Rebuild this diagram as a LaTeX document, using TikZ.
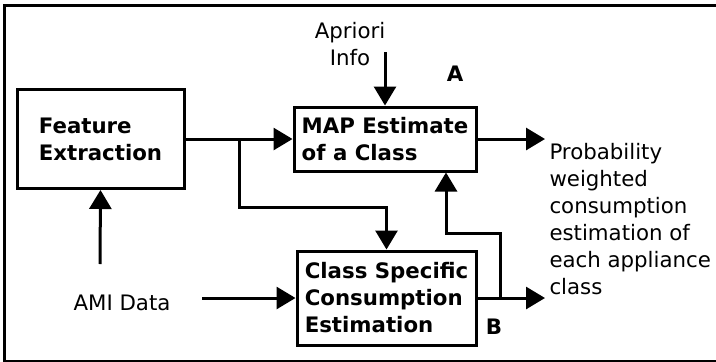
\documentclass[tikz,border=0pt]{standalone}
\usepackage{fontspec}
\setmainfont{DejaVu Sans}
\usetikzlibrary{positioning,calc,arrows.meta}

\begin{document}
\begin{tikzpicture}[
    x=1pt, y=-1pt,
    font=\fontsize{21.3}{27}\selectfont,
    >={Triangle[length=19pt,width=22pt]},
    line width=3pt,
    block/.style={
        draw,
        align=left,
        inner sep=2pt,
        font=\fontsize{21.3}{27}\selectfont\bfseries
    },
    arrow/.style={->, line width=3pt},
    label/.style={font=\fontsize{21.3}{27}\selectfont\bfseries, inner sep=0pt}
]
\useasboundingbox (0,0) rectangle (716,362);

% outer frame, open on the right
\draw[line width=3pt] (730,5.5) -- (4.5,5.5) -- (4.5,361) -- (730,361);

\node[block, minimum width=167pt, minimum height=99pt] (feat) at (100.5,139) {Feature\\Extraction};
\node[block, minimum width=182pt, minimum height=64pt] (map) at (385,139) {MAP Estimate\\of a Class};
\node[block, minimum width=179pt, minimum height=94pt] (cls) at (386.5,298) {Class Specific\\Consumption\\Estimation};

\node[align=center, inner sep=0pt] (prior) at (350,44) {Apriori\\Info};
\node[inner sep=0pt] (ami) at (122,303) {AMI Data};
\node[align=left, anchor=north west, inner sep=0pt] (out) at (548,142) {Probability\\weighted\\consumption\\estimation of\\each appliance\\class};
\node[label] (lblA) at (455,73.5) {A};
\node[label] (lblB) at (494,327) {B};

\coordinate (priorEnd) at (385,52);
\coordinate (amiUp) at (100,264);
\coordinate (amiRight) at (202,298);
\coordinate (split) at (239,139);
\coordinate (mid) at (239,207);
\coordinate (outA) at (545,139);
\coordinate (outB) at (545,298);
\coordinate (fbk) at (500,298);
\coordinate (fbturn) at (446,233);

\draw[arrow] (feat.east) -- (map.west);
\draw[arrow] (split) -- (mid) -| (cls.north);
\draw[arrow] (priorEnd) -- (map.north);
\draw[arrow] (map.east) -- (outA);
\draw[arrow] (amiUp) -- (feat.south);
\draw[arrow] (amiRight) -- (cls.west);
\draw[arrow] (cls.east) -- (outB);
\draw[arrow] (fbk) |- (fbturn) -- (fbturn |- map.south);

\end{tikzpicture}
\end{document}
